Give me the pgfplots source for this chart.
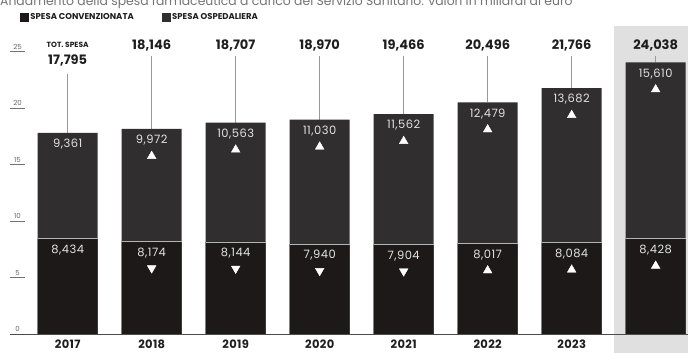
\documentclass[border=0pt]{standalone}
\usepackage{pgfplots}
\pgfplotsset{compat=1.18}
\usepackage{pgfplotstable}
\usepackage{fontspec}
\setmainfont{Poppins}
\newfontfamily\valfont[LetterSpace=4]{Poppins}
\newfontfamily\yearfont[LetterSpace=3]{Poppins}
\definecolor{conv}{HTML}{1D1919}
\definecolor{osp}{HTML}{302E2E}
\definecolor{sep}{HTML}{B5B5B5}
\definecolor{valtxt}{HTML}{E2E2E2}
\definecolor{hl}{HTML}{E0E0E0}
\definecolor{txt}{HTML}{1E1E1E}

\pgfplotstableread{
x conv osp total
0 8.434 9.361 17.795
1 8.174 9.972 18.146
2 8.144 10.563 18.707
3 7.940 11.030 18.970
4 7.904 11.562 19.466
5 8.017 12.479 20.496
6 8.084 13.682 21.766
7 8.428 15.610 24.038
}\data

\begin{document}
\begin{tikzpicture}
\useasboundingbox (0pt,0pt) rectangle (688pt,353pt);
\node[anchor=west, font=\fontsize{12.4}{12.4}\selectfont, text=black!55, inner sep=0pt] at (0pt,351pt) {Andamento della spesa farmaceutica a carico del Servizio Sanitario: valori in miliardi di euro};
\begin{axis}[
  at={(0pt,19pt)}, anchor=south west,
  scale only axis, width=688pt, height=334pt,
  xmin=-0.806, xmax=7.385, ymin=0, ymax=29.557,
  clip=false,
  axis line style={draw=none},
  xtick={0,...,7},
  xticklabels={2017,2018,2019,2020,2021,2022,2023,2024*},
  xtick style={draw=none},
  xticklabel style={anchor=center, yshift=-10pt, font=\yearfont\bfseries\fontsize{11.5}{11.5}\selectfont, text=txt},
  ytick={0,5,10,15,20,25},
  tick align=inside,
  major tick length=15pt,
  ytick style={xshift=10pt, draw=black!55, line width=0.7pt},
  yticklabel style={anchor=south, xshift=17.5pt, yshift=1pt, inner sep=1pt, font=\fontsize{7}{7}\selectfont, text=black!60},
  /pgf/number format/assume math mode=true,
  legend style={at={(axis cs:-0.57,28.05)}, anchor=west, draw=none, fill=none, inner sep=0pt,
    font=\bfseries\fontsize{8.5}{8.5}\selectfont, text=txt,
    /tikz/every even column/.append style={column sep=26pt}},
  legend columns=2,
  legend image code/.code={\fill[#1] (0pt,-4pt) rectangle (8pt,4pt);},
]
% highlight of 2024
\fill[hl] (axis cs:6.5,-1.7) rectangle (axis cs:7.385,27.26);
\addlegendimage{conv}
\addlegendentry{SPESA CONVENZIONATA}
\addlegendimage{osp}
\addlegendentry{SPESA OSPEDALIERA}
% connectors
\addplot[forget plot, draw=none, mark=none, black!40,
  error bars/.cd, y dir=plus, y explicit, error mark=none,
  error bar style={black!40, line width=0.5pt}]
  table[x=x, y=total, y error expr={(\thisrow{x}<0.5 ? 23.0 : 24.6)-\thisrow{total}}]{\data};
% bars
\addplot[forget plot, ybar, bar width=0.714, bar shift=0pt, fill=osp, draw=none] table[x=x,y=total]{\data};
\addplot[forget plot, ybar, bar width=0.714, bar shift=0pt, fill=conv, draw=none] table[x=x,y=conv]{\data};
\addplot[forget plot, only marks, mark=-, mark size=30pt, sep, mark options={line width=0.9pt}] table[x=x,y=conv]{\data};
% value labels
\addplot[forget plot, draw=none, mark=none, point meta=explicit,
  nodes near coords={\pgfmathprintnumber[fixed,fixed zerofill,precision=3,dec sep={,},assume math mode=true]{\pgfplotspointmeta}},
  nodes near coords style={anchor=north, yshift=-6pt, inner sep=0pt, text=valtxt, font=\valfont\fontsize{11.5}{11.5}\selectfont}]
  table[x=x,y=total,meta=osp]{\data};
\addplot[forget plot, draw=none, mark=none, point meta=explicit,
  nodes near coords={\pgfmathprintnumber[fixed,fixed zerofill,precision=3,dec sep={,},assume math mode=true]{\pgfplotspointmeta}},
  nodes near coords style={anchor=north, yshift=-6pt, inner sep=0pt, text=valtxt, font=\valfont\fontsize{11.5}{11.5}\selectfont}]
  table[x=x,y=conv,meta=conv]{\data};
% triangles
\addplot[forget plot, only marks, mark=triangle*, mark size=5pt, white, x filter/.expression={x>0.5 ? x : nan}]
  table[x=x, y expr=\thisrow{total}-2.4]{\data};
\addplot[forget plot, only marks, mark=triangle*, mark size=5pt, white, mark options={rotate=180}, x filter/.expression={and(x>0.5,x<4.5) ? x : nan}]
  table[x=x, y expr=\thisrow{conv}-2.35]{\data};
\addplot[forget plot, only marks, mark=triangle*, mark size=5pt, white, x filter/.expression={x>4.5 ? x : nan}]
  table[x=x, y expr=\thisrow{conv}-2.4]{\data};
% totals
\addplot[forget plot, draw=none, mark=none, point meta=explicit,
  x filter/.expression={x>0.5 ? x : nan},
  nodes near coords={\pgfmathprintnumber[fixed,fixed zerofill,precision=3,1000 sep={},dec sep={,},assume math mode=true]{\pgfplotspointmeta}},
  nodes near coords style={anchor=center, inner sep=0pt, text=txt, font=\bfseries\fontsize{13}{13}\selectfont}]
  table[x=x, y expr=25.5, meta=total]{\data};
\node[font=\bfseries\fontsize{7.5}{7.5}\selectfont, text=txt, inner sep=0pt] at (axis cs:0,25.55) {TOT. SPESA};
\addplot[forget plot, draw=none, mark=none, point meta=explicit,
  x filter/.expression={x<0.5 ? x : nan},
  nodes near coords={\pgfmathprintnumber[fixed,fixed zerofill,precision=3,dec sep={,},assume math mode=true]{\pgfplotspointmeta}},
  nodes near coords style={anchor=center, inner sep=0pt, text=txt, font=\bfseries\fontsize{13}{13}\selectfont}]
  table[x=x, y expr=24.2, meta=total]{\data};
% baseline
\draw[black!70, line width=0.9pt] (axis cs:-0.687,0) -- (axis cs:7.385,0);
\end{axis}
\end{tikzpicture}
\end{document}
